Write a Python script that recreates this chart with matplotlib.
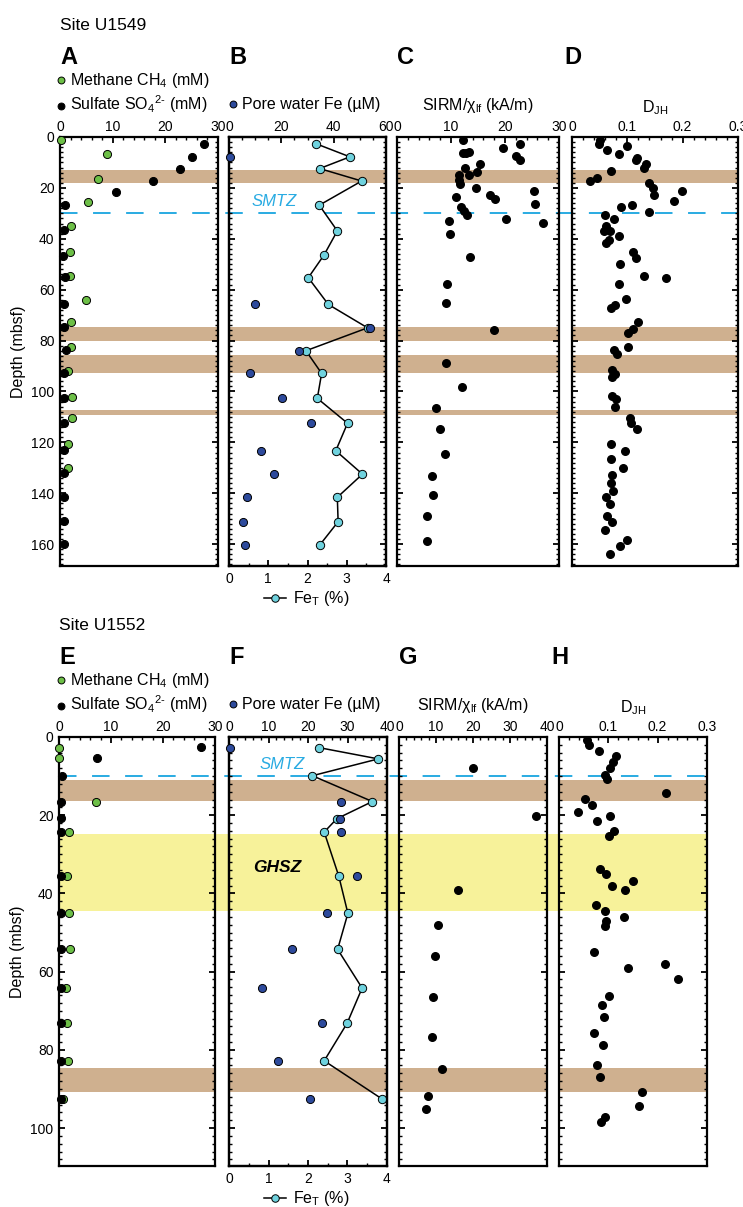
import matplotlib
matplotlib.use("Agg")
import matplotlib.pyplot as plt
from matplotlib.ticker import MultipleLocator
from matplotlib.lines import Line2D
from matplotlib.patches import Rectangle
import matplotlib.transforms as mtransforms

plt.rcParams['font.family'] = ['Liberation Sans', 'DejaVu Sans']
plt.rcParams['mathtext.fontset'] = 'custom'
plt.rcParams['mathtext.rm'] = 'Liberation Sans'
plt.rcParams['mathtext.it'] = 'Liberation Sans:italic'
plt.rcParams['mathtext.bf'] = 'Liberation Sans:bold'
plt.rcParams['mathtext.default'] = 'regular'

# ---------------- Site U1549 ----------------
meth1_depth = [1.3, 6.8, 16.7, 25.5, 35.0, 45.0, 54.6, 64.1, 72.9, 82.4, 91.8, 102.1, 110.3, 120.7, 130.1]
meth1 = [0.1, 9.0, 7.2, 5.4, 2.0, 1.9, 1.9, 4.9, 2.1, 2.1, 1.6, 2.3, 2.2, 1.5, 1.6]
sulf1_depth = [2.6, 7.8, 12.5, 17.3, 21.6, 26.8, 36.6, 46.8, 55.2, 65.6, 74.8, 83.9, 92.9, 102.6,
               112.3, 123.0, 132.2, 141.4, 150.8, 160.0]
sulf1 = [27.3, 25.0, 22.8, 17.6, 10.6, 1.0, 0.8, 0.6, 1.0, 0.8, 0.8, 1.2, 0.8, 0.7, 0.7, 0.7, 0.8, 0.7, 0.8, 0.7]
fet1_depth = [2.6, 7.8, 12.4, 17.3, 26.8, 36.9, 46.4, 55.3, 65.8, 75.0, 84.0, 92.9, 102.7, 112.5,
              123.3, 132.5, 141.6, 151.2, 160.4]
fet1 = [2.21, 3.08, 2.31, 3.38, 2.30, 2.76, 2.42, 2.02, 2.53, 3.53, 1.96, 2.36, 2.25, 3.02, 2.72, 3.40, 2.76, 2.78, 2.31]
pfe1_depth = [7.8, 65.8, 75.0, 84.0, 92.9, 102.7, 112.5, 123.3, 132.5, 141.6, 151.2, 160.4]
pfe1 = [0.3, 10.1, 53.9, 26.8, 8.2, 20.1, 31.2, 12.1, 17.2, 7.0, 5.4, 6.0]
sirm1_depth = [1.0, 2.7, 4.3, 5.9, 6.1, 6.3, 7.6, 9.2, 10.7, 12.2, 13.7, 15.0, 15.0, 17.0, 18.3, 19.9,
               21.3, 22.6, 23.7, 24.3, 26.3, 27.7, 29.2, 30.8, 32.2, 33.1, 33.7, 38.3, 47.3, 57.9,
               65.1, 75.7, 88.7, 98.1, 106.5, 114.6, 124.6, 133.1, 140.5, 149.1, 158.7]
sirm1 = [12.3, 22.7, 19.6, 13.4, 12.8, 12.3, 22.0, 22.7, 15.3, 12.6, 14.9, 13.4, 11.5, 11.5, 11.6, 14.7,
         25.3, 17.3, 10.9, 18.1, 25.5, 11.8, 12.4, 12.9, 20.1, 9.6, 27.1, 9.9, 13.6, 9.2,
         9.0, 17.9, 9.1, 12.0, 7.3, 7.9, 8.8, 6.5, 6.7, 5.5, 5.5]
djh1_depth = [1.3, 2.6, 3.4, 5.0, 6.5, 8.1, 8.9, 10.5, 12.0, 13.5, 16.1, 17.3, 18.0, 19.9, 21.3, 22.9,
              25.2, 26.7, 27.6, 29.3, 30.7, 32.2, 34.8, 36.9, 37.1, 39.0, 40.3, 41.6, 45.0, 47.5,
              50.1, 54.5, 55.3, 57.9, 63.8, 66.0, 67.2, 72.7, 75.5, 77.0, 82.4, 83.9, 85.3, 91.7,
              93.0, 94.5, 101.8, 103.1, 106.0, 110.3, 112.4, 114.8, 120.5, 123.5, 126.4, 130.0,
              132.9, 135.9, 139.2, 141.6, 144.1, 148.9, 151.5, 154.4, 158.2, 160.6, 163.8]
djh1 = [0.050, 0.049, 0.099, 0.064, 0.085, 0.118, 0.115, 0.133, 0.131, 0.070, 0.046, 0.033, 0.139, 0.146,
        0.199, 0.148, 0.184, 0.108, 0.089, 0.140, 0.059, 0.075, 0.062, 0.058, 0.068, 0.085, 0.066,
        0.062, 0.110, 0.116, 0.086, 0.130, 0.169, 0.085, 0.098, 0.078, 0.071, 0.119, 0.111, 0.102,
        0.101, 0.075, 0.082, 0.072, 0.078, 0.072, 0.072, 0.079, 0.077, 0.104, 0.107, 0.118, 0.071,
        0.095, 0.071, 0.092, 0.073, 0.070, 0.074, 0.061, 0.068, 0.063, 0.072, 0.060, 0.099, 0.086, 0.069]
bands1 = [(13.0, 18.0), (74.8, 80.2), (85.8, 92.9), (107.4, 109.4)]
smtz1 = 30.0

# ---------------- Site U1552 ----------------
meth2_depth = [2.7, 5.4, 16.5, 24.3, 35.6, 45.1, 54.3, 64.2, 73.2, 82.8, 92.6]
meth2 = [0.0, 0.0, 7.1, 2.0, 1.5, 2.0, 2.2, 1.3, 1.5, 1.8, 0.8]
sulf2_depth = [2.6, 5.4, 9.9, 16.5, 20.8, 24.3, 35.6, 45.1, 54.3, 64.2, 73.2, 82.8, 92.6]
sulf2 = [27.4, 7.3, 0.5, 0.4, 0.4, 0.4, 0.4, 0.3, 0.4, 0.4, 0.4, 0.4, 0.4]
fet2_depth = [2.7, 5.6, 9.9, 16.5, 20.9, 24.3, 35.6, 45.1, 54.3, 64.2, 73.2, 82.8, 92.6]
fet2 = [2.27, 3.78, 2.11, 3.63, 2.73, 2.41, 2.78, 3.01, 2.75, 3.37, 2.99, 2.41, 3.88]
pfe2_depth = [2.7, 16.5, 20.9, 24.3, 35.6, 45.1, 54.3, 64.2, 73.2, 82.8, 92.6]
pfe2 = [0.2, 28.3, 28.1, 28.3, 32.3, 24.7, 15.9, 8.4, 23.5, 12.3, 20.5]
sirm2_depth = [8.0, 20.2, 39.1, 48.0, 56.1, 66.6, 76.6, 85.0, 91.7, 95.1]
sirm2 = [20.1, 36.9, 15.9, 10.6, 9.7, 9.3, 9.0, 11.6, 7.9, 7.3]
djh2_depth = [0.7, 2.1, 3.6, 4.9, 6.5, 8.0, 9.6, 10.8, 14.4, 15.9, 17.4, 19.1, 20.2, 21.5, 24.0, 25.2,
              33.8, 35.1, 36.9, 38.1, 39.2, 43.0, 44.6, 46.0, 47.1, 48.4, 55.0, 58.1, 59.1, 62.0,
              66.2, 68.5, 71.7, 75.6, 78.8, 83.8, 87.0, 90.8, 94.3, 97.2, 98.5]
djh2 = [0.057, 0.060, 0.081, 0.115, 0.109, 0.104, 0.094, 0.098, 0.216, 0.053, 0.067, 0.038, 0.103,
        0.077, 0.111, 0.102, 0.084, 0.095, 0.149, 0.107, 0.134, 0.074, 0.093, 0.132, 0.095, 0.093,
        0.071, 0.214, 0.140, 0.242, 0.102, 0.088, 0.092, 0.071, 0.089, 0.077, 0.083, 0.169, 0.162,
        0.094, 0.086]
bands2 = [(11.0, 16.4), (84.6, 90.8)]
ghsz2 = (24.9, 44.6)
smtz2 = 10.0

# ---------------- styling ----------------
W, H = 743, 1207
C_GREEN = '#6dbf47'
C_CYAN = '#6fd2de'
C_BLUE = '#2d4a9c'
C_BROWN = '#cfb08f'
C_YELLOW = '#f7f29a'
C_SMTZ = '#29abe2'
FS_TICK = 10
FS_TXT = 11.5

fig = plt.figure(figsize=(W / 100, H / 100), dpi=100)


def rect(x0, x1, y0, y1):
    return [x0 / W, 1 - y1 / H, (x1 - x0) / W, (y1 - y0) / H]


def base_style(ax, ylim, ylabels):
    ax.set_facecolor('none')
    ax.set_ylim(*ylim)
    ax.yaxis.set_major_locator(MultipleLocator(20))
    ax.yaxis.set_minor_locator(MultipleLocator(2))
    for s in ax.spines.values():
        s.set_linewidth(1.6)
    ax.tick_params(axis='y', which='both', direction='in', left=True, right=True,
                   labelleft=ylabels, labelright=False, labelsize=FS_TICK, pad=4)
    ax.tick_params(axis='y', which='major', length=4.5, width=1.3)
    ax.tick_params(axis='y', which='minor', length=2.5, width=1.0)


def top_x(ax, lim, major, minor):
    ax.set_xlim(*lim)
    ax.xaxis.set_major_locator(MultipleLocator(major))
    ax.xaxis.set_minor_locator(MultipleLocator(minor))
    ax.tick_params(axis='x', which='both', direction='in', top=True, bottom=False,
                   labeltop=True, labelbottom=False, labelsize=FS_TICK, pad=2.5)
    ax.tick_params(axis='x', which='major', length=4.5, width=1.3)
    ax.tick_params(axis='x', which='minor', length=2.5, width=1.0)


def add_bands(ax, bands):
    for b0, b1 in bands:
        ax.axhspan(b0, b1, color=C_BROWN, lw=0, zorder=0.5)


def make_site(ytop, ybot, cols, ylim, d):
    (xa0, xa1), (xb0, xb1), (xc0, xc1), (xd0, xd1) = cols
    axA = fig.add_axes(rect(xa0, xa1, ytop, ybot))
    axB = fig.add_axes(rect(xb0, xb1, ytop, ybot))
    axC = fig.add_axes(rect(xc0, xc1, ytop, ybot))
    axD = fig.add_axes(rect(xd0, xd1, ytop, ybot))
    for ax, yl in ((axA, True), (axB, False), (axC, False), (axD, False)):
        base_style(ax, ylim, yl)
        add_bands(ax, d['bands'])
    axA.set_ylabel('Depth (mbsf)', fontsize=FS_TXT, labelpad=4)

    # A: methane & sulfate
    top_x(axA, (0, 30), 10, 2)
    hm = axA.scatter(d['meth'], d['meth_d'], s=34, c=C_GREEN, edgecolors='black', linewidths=0.7,
                     zorder=3, clip_on=False, label='Methane CH$_4$ (mM)')
    hs = axA.scatter(d['sulf'], d['sulf_d'], s=34, c='black', edgecolors='black', linewidths=0.7,
                     zorder=4, clip_on=False, label='Sulfate SO$_4$$^{2\u2010}$ (mM)')

    # B: Fe_T bottom, pore water Fe top
    axB.set_xlim(0, 4)
    axB.xaxis.set_major_locator(MultipleLocator(1))
    axB.xaxis.set_minor_locator(MultipleLocator(0.5))
    axB.tick_params(axis='x', which='both', direction='in', top=False, bottom=True,
                    labelbottom=True, labeltop=False, labelsize=FS_TICK, pad=4)
    axB.tick_params(axis='x', which='major', length=4.5, width=1.3)
    axB.tick_params(axis='x', which='minor', length=2.5, width=1.0)
    ln, = axB.plot(d['fet'], d['fet_d'], '-', color='black', lw=1.1, marker='o', ms=6,
                   mfc=C_CYAN, mec='black', mew=0.7, zorder=4, clip_on=False)
    axBt = axB.twiny()
    axBt.set_facecolor('none')
    top_x(axBt, (0, d['pfe_max']), d['pfe_major'], d['pfe_minor'])
    for s in axBt.spines.values():
        s.set_linewidth(1.6)
    hp = axBt.scatter(d['pfe'], d['pfe_d'], s=34, c=C_BLUE, edgecolors='black', linewidths=0.7,
                      zorder=3, clip_on=False, label='Pore water Fe (µM)')
    axBt.set_ylim(*ylim)

    # C: SIRM / chi
    top_x(axC, (0, d['sirm_max']), 10, 2)
    axC.scatter(d['sirm'], d['sirm_d'], s=30, c='black', zorder=3, clip_on=False)
    axC.xaxis.set_label_position('top')
    axC.set_xlabel('SIRM/χ$_{lf}$ (kA/m)', fontsize=FS_TXT, labelpad=7)

    # D: D_JH
    top_x(axD, (0, 0.3), 0.1, 0.02)
    axD.xaxis.set_major_formatter(plt.FuncFormatter(lambda v, p: '0' if abs(v) < 1e-9 else f'{v:.1f}'))
    axD.scatter(d['djh'], d['djh_d'], s=30, c='black', zorder=3, clip_on=False)
    axD.xaxis.set_label_position('top')
    axD.set_xlabel('D$_{JH}$', fontsize=FS_TXT, labelpad=5)

    # site title & panel letters
    fig.text(xa0 / W, 1 - (ytop - 112) / H, d['site'], fontsize=12.5, va='center', ha='left')
    for ax_x, letter in zip((xa0, xb0, xc0, xd0 - 8), d['letters']):
        fig.text(ax_x / W, 1 - (ytop - 80) / H, letter, fontsize=17, fontweight='bold',
                 va='center', ha='left')

    # legends
    kw = dict(loc='center left', frameon=False, fontsize=FS_TXT, handletextpad=0.15,
              handlelength=0.8, borderpad=0, borderaxespad=0, markerscale=0.85)
    fig.legend(handles=[hm], bbox_to_anchor=(55 / W, 1 - (ytop - 57) / H), **kw)
    fig.legend(handles=[hs], bbox_to_anchor=(55 / W, 1 - (ytop - 33) / H), **kw)
    fig.legend(handles=[hp], bbox_to_anchor=(227 / W, 1 - (ytop - 33) / H), **kw)
    fig.legend(handles=[ln], labels=['Fe$_T$ (%)'], loc='center left', frameon=False,
               fontsize=FS_TXT, handletextpad=0.4, handlelength=1.4, borderpad=0,
               borderaxespad=0, markerscale=0.9,
               bbox_to_anchor=(264 / W, 1 - (ybot + 33) / H))

    # SMTZ dashed line across all panels
    tr = mtransforms.blended_transform_factory(fig.transFigure, axA.transData)
    fig.add_artist(Line2D([xa0 / W, xd1 / W], [d['smtz'], d['smtz']], transform=tr,
                          color=C_SMTZ, lw=1.4, ls=(0, (9, 8)), zorder=-0.5))
    axB.text(d['smtz_txt'][0], d['smtz_txt'][1], 'SMTZ', color=C_SMTZ, fontsize=12,
             style='italic', ha='center', va='center', zorder=5)
    if d.get('ghsz') is not None:
        g0, g1 = d['ghsz']
        fig.add_artist(Rectangle((xa0 / W, g0), (xd1 - xa0) / W, g1 - g0, transform=tr,
                                 facecolor=C_YELLOW, edgecolor='none', zorder=-1))
        axB.text(1.22, 33.3, 'GHSZ', color='black', fontsize=12.5, style='italic',
                 fontweight='bold', ha='center', va='center', zorder=5)
    return axA, axB, axC, axD


site1 = dict(site='Site U1549', letters='ABCD', bands=bands1, smtz=smtz1, smtz_txt=(1.15, 25.5),
             meth=meth1, meth_d=meth1_depth, sulf=sulf1, sulf_d=sulf1_depth,
             fet=fet1, fet_d=fet1_depth, pfe=pfe1, pfe_d=pfe1_depth, pfe_max=60, pfe_major=20,
             pfe_minor=5, sirm=sirm1, sirm_d=sirm1_depth, sirm_max=30, djh=djh1, djh_d=djh1_depth)
site2 = dict(site='Site U1552', letters='EFGH', bands=bands2, smtz=smtz2, smtz_txt=(1.34, 7.0),
             ghsz=ghsz2,
             meth=meth2, meth_d=meth2_depth, sulf=sulf2, sulf_d=sulf2_depth,
             fet=fet2, fet_d=fet2_depth, pfe=pfe2, pfe_d=pfe2_depth, pfe_max=40, pfe_major=10,
             pfe_minor=2, sirm=sirm2, sirm_d=sirm2_depth, sirm_max=40, djh=djh2, djh_d=djh2_depth)

make_site(137, 566, [(60, 218), (229, 386), (397, 559), (572, 738)], (168.6, 0), site1)
make_site(737, 1166, [(59, 215), (229, 387), (399, 547), (559, 707)], (109.7, 0), site2)

fig.savefig('out.png', dpi=100)
